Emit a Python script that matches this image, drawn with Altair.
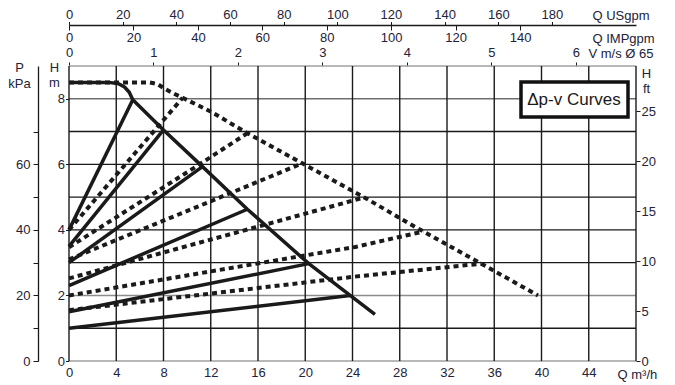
import altair as alt
import pandas as pd

# ---------------- data ----------------
Q_MAX = 48.0          # m3/h, right edge of plot
H_MAX = 9.0           # m, top edge of plot
KPA_PER_M = 10.0
FT_PER_M = 3.2808
USGPM_PER_M3H = 4.4029
IMPGPM_PER_M3H = 3.6662
M3H_PER_MS = 7.15     # pipe DN65 velocity conversion as drawn

grid_q = [0, 4, 8, 12, 16, 20, 24, 28, 32, 36, 40, 44, 48]
q_ticks = [0, 4, 8, 12, 16, 20, 24, 28, 32, 36, 40, 44]
grid_h = [0, 1, 2, 3, 4, 5, 6, 7, 8, 9]
grid_h_color = ["#a0a0a0", "#1a1a1a", "#8c8c8c", "#1a1a1a", "#1a1a1a",
                "#1a1a1a", "#1a1a1a", "#1a1a1a", "#6e6e6e", "#a0a0a0"]
h_ticks = [0, 2, 4, 6, 8]
kpa_ticks = [0, 10, 20, 30, 40, 50, 60, 70]
ft_ticks = [0, 5, 10, 15, 20, 25]
usgpm_ticks = [0, 20, 40, 60, 80, 100, 120, 140, 160, 180]
impgpm_ticks = [0, 20, 40, 60, 80, 100, 120, 140]
v_ticks = [0, 1, 2, 3, 4, 5, 6]

# solid max curve
solid_max_q = [0, 3.4, 4.2, 4.7, 5.1, 5.4, 8.0, 11.3, 15.1, 20.3, 23.8, 25.9]
solid_max_h = [8.5, 8.5, 8.46, 8.36, 8.2, 7.97, 7.05, 5.93, 4.63, 2.97, 2.0, 1.42]
# dashed max curve
dashed_max_q = [0, 6.8, 7.5, 8.0, 8.8, 9.62, 12.05, 15.1, 19.75, 25.0, 29.7, 34.9, 39.7]
dashed_max_h = [8.5, 8.5, 8.45, 8.33, 8.17, 8.03, 7.6, 6.95, 6.03, 4.99, 4.01, 2.97, 2.0]

# solid delta p-v lines
s1_q, s1_h = [0, 23.8], [1.0, 2.0]
s2_q, s2_h = [0, 20.3], [1.5, 2.97]
s3_q, s3_h = [0, 15.1], [2.3, 4.63]
s4_q, s4_h = [0, 11.3], [3.0, 5.93]
s5_q, s5_h = [0, 8.0], [3.5, 7.05]
s6_q, s6_h = [0, 5.4], [4.0, 7.97]
# dashed delta p-v lines
d1_q, d1_h = [0, 24.1, 34.9], [1.55, 2.57, 2.97]
d2_q, d2_h = [0, 24.25, 30.0], [2.0, 3.48, 3.95]
d3_q, d3_h = [0, 15.8, 25.0], [2.52, 4.08, 4.99]
d4_q, d4_h = [0, 10.9, 19.75], [3.1, 4.71, 6.03]
d5_q, d5_h = [0, 10.75, 15.1], [3.47, 5.93, 6.95]
d6_q, d6_h = [0, 9.62], [4.0, 8.03]

legend_label = ["Δp-v Curves"]

# ---------------- tables ----------------
def table(curves):
    rows = []
    for name, (qs, hs) in curves.items():
        for i, (q, h) in enumerate(zip(qs, hs)):
            rows.append({"curve": name, "i": i, "Q": q, "H": h})
    return pd.DataFrame(rows)

solid_df = table({"smax": (solid_max_q, solid_max_h), "s1": (s1_q, s1_h),
                  "s2": (s2_q, s2_h), "s3": (s3_q, s3_h), "s4": (s4_q, s4_h),
                  "s5": (s5_q, s5_h), "s6": (s6_q, s6_h)})
dashed_df = table({"dmax": (dashed_max_q, dashed_max_h), "d1": (d1_q, d1_h),
                   "d2": (d2_q, d2_h), "d3": (d3_q, d3_h), "d4": (d4_q, d4_h),
                   "d5": (d5_q, d5_h), "d6": (d6_q, d6_h)})

TXT = "#22223a"
FONT = "Liberation Sans"
FS = 13


def xs():
    return alt.Scale(domain=[0, Q_MAX], nice=False, zero=False)


def ys():
    return alt.Scale(domain=[0, H_MAX], nice=False, zero=False)


common_axis = dict(labelFont=FONT, labelFontSize=FS, labelColor=TXT,
                   titleFont=FONT, titleFontSize=FS, titleColor=TXT,
                   titleFontWeight="normal", labelFlush=False,
                   labelOverlap=False, labelBound=False, grid=False,
                   tickColor="#1a1a1a", domainColor="#1a1a1a")

x_main_axis = alt.Axis(orient="bottom", values=q_ticks, ticks=False, domain=False,
                       labelPadding=5, title="Q m³/h", titleX=548, titleY=17,
                       titleAlign="left", titleBaseline="alphabetic",
                       titleAnchor="start", **common_axis)
y_main_axis = alt.Axis(orient="left", values=h_ticks, tickSize=3.5, domain=False,
                       labelPadding=1, title=["H", "m"], titleAngle=0,
                       titleX=-15, titleY=5, titleAlign="center",
                       titleBaseline="alphabetic", titleLineHeight=15,
                       titleAnchor="start", **common_axis)

grid_v_df = pd.DataFrame({"Q": grid_q})
grid_h_df = pd.DataFrame({"H": grid_h, "c": grid_h_color})

vlines = alt.Chart(grid_v_df).mark_rule(strokeWidth=1.4, color="#1a1a1a").encode(
    x=alt.X("Q:Q", scale=xs(), axis=None))
hlines = alt.Chart(grid_h_df).mark_rule(strokeWidth=1.4).encode(
    y=alt.Y("H:Q", scale=ys(), axis=None),
    color=alt.Color("c:N", scale=None))

dashed = alt.Chart(dashed_df).mark_line(
    color="#1a1a1a", strokeWidth=4, strokeDash=[5, 4], strokeCap="butt").encode(
    x=alt.X("Q:Q", scale=xs(), axis=None),
    y=alt.Y("H:Q", scale=ys(), axis=None),
    detail="curve:N", order="i:Q")

solid = alt.Chart(solid_df).mark_line(
    color="#1a1a1a", strokeWidth=3.5, strokeJoin="round").encode(
    x=alt.X("Q:Q", scale=xs(), axis=None),
    y=alt.Y("H:Q", scale=ys(), axis=None),
    detail="curve:N", order="i:Q")

leg_df = pd.DataFrame({"label": legend_label})
leg_box = alt.Chart(leg_df).mark_rect(fill="white", stroke="#111111", strokeWidth=3.5).encode(
    x=alt.value(452), x2=alt.value(559), y=alt.value(16), y2=alt.value(51))
leg_text = alt.Chart(leg_df).mark_text(
    font="Liberation Sans", fontSize=17, color="#1a1a1a",
    align="center", baseline="middle").encode(
    x=alt.value(505), y=alt.value(34), text="label:N")

main = alt.layer(hlines, vlines, dashed, solid, leg_box, leg_text)

# ---- axes: main Q / H axes on an invisible carrier with the same scales ----
qh_layer = alt.Chart(pd.DataFrame({"Q": grid_q[:len(grid_h)], "H": grid_h})).mark_point(
    opacity=0).encode(
    x=alt.X("Q:Q", scale=xs(), axis=x_main_axis),
    y=alt.Y("H:Q", scale=ys(), axis=y_main_axis))

kpa_layer = alt.Chart(pd.DataFrame({"v": kpa_ticks})).mark_point(opacity=0).encode(
    y=alt.Y("v:Q", scale=alt.Scale(domain=[0, H_MAX * KPA_PER_M], nice=False, zero=False),
            axis=alt.Axis(orient="left", offset=31, values=kpa_ticks, tickSize=5,
                          labelPadding=3, domainWidth=1.3,
                          labelExpr="datum.value % 20 === 0 ? datum.label : ''",
                          title=["P", "kPa"], titleAngle=0, titleX=-19, titleY=5,
                          titleAlign="center", titleBaseline="alphabetic",
                          titleLineHeight=16, titleAnchor="start", **common_axis)))

ft_layer = alt.Chart(pd.DataFrame({"v": ft_ticks})).mark_point(opacity=0).encode(
    y=alt.Y("v:Q", scale=alt.Scale(domain=[0, H_MAX * FT_PER_M], nice=False, zero=False),
            axis=alt.Axis(orient="right", values=ft_ticks, tickSize=4, domain=False,
                          labelPadding=1, title=["H", "ft"], titleAngle=0,
                          titleX=10, titleY=11, titleAlign="center",
                          titleBaseline="alphabetic", titleLineHeight=15,
                          titleAnchor="start", **common_axis)))

us_layer = alt.Chart(pd.DataFrame({"v": usgpm_ticks})).mark_point(opacity=0).encode(
    x=alt.X("v:Q", scale=alt.Scale(domain=[0, Q_MAX * USGPM_PER_M3H], nice=False, zero=False),
            axis=alt.Axis(orient="top", offset=41, values=usgpm_ticks, tickSize=3.5,
                          labelPadding=0, domainWidth=1.3,
                          title="Q USgpm", titleX=523, titleY=-6, titleAlign="left",
                          titleBaseline="alphabetic", titleAnchor="start", **common_axis)))

imp_layer = alt.Chart(pd.DataFrame({"v": impgpm_ticks})).mark_point(opacity=0).encode(
    x=alt.X("v:Q", scale=alt.Scale(domain=[0, Q_MAX * IMPGPM_PER_M3H], nice=False, zero=False),
            axis=alt.Axis(orient="bottom", offset=-336, values=impgpm_ticks, tickSize=5,
                          domain=False, labelPadding=1,
                          title="Q IMPgpm", titleX=523, titleY=17, titleAlign="left",
                          titleBaseline="alphabetic", titleAnchor="start", **common_axis)))

v_layer = alt.Chart(pd.DataFrame({"v": v_ticks})).mark_point(opacity=0).encode(
    x=alt.X("v:Q", scale=alt.Scale(domain=[0, Q_MAX / M3H_PER_MS], nice=False, zero=False),
            axis=alt.Axis(orient="top", offset=0, values=v_ticks, tickSize=4,
                          domain=False, labelPadding=2.5,
                          title="V m/s Ø 65", titleX=519, titleY=-9, titleAlign="left",
                          titleBaseline="alphabetic", titleAnchor="start", **common_axis)))

chart = alt.layer(main, qh_layer, us_layer, imp_layer, v_layer, kpa_layer, ft_layer).resolve_scale(
    x="independent", y="independent").properties(
    width=567, height=295,
    autosize=alt.AutoSizeParams(type="none"),
    padding={"left": 61, "top": 58, "right": 26, "bottom": 21},
    background="white",
).configure_view(strokeWidth=0)

chart.save("out.html", embed_options={"renderer": "svg", "actions": False})
